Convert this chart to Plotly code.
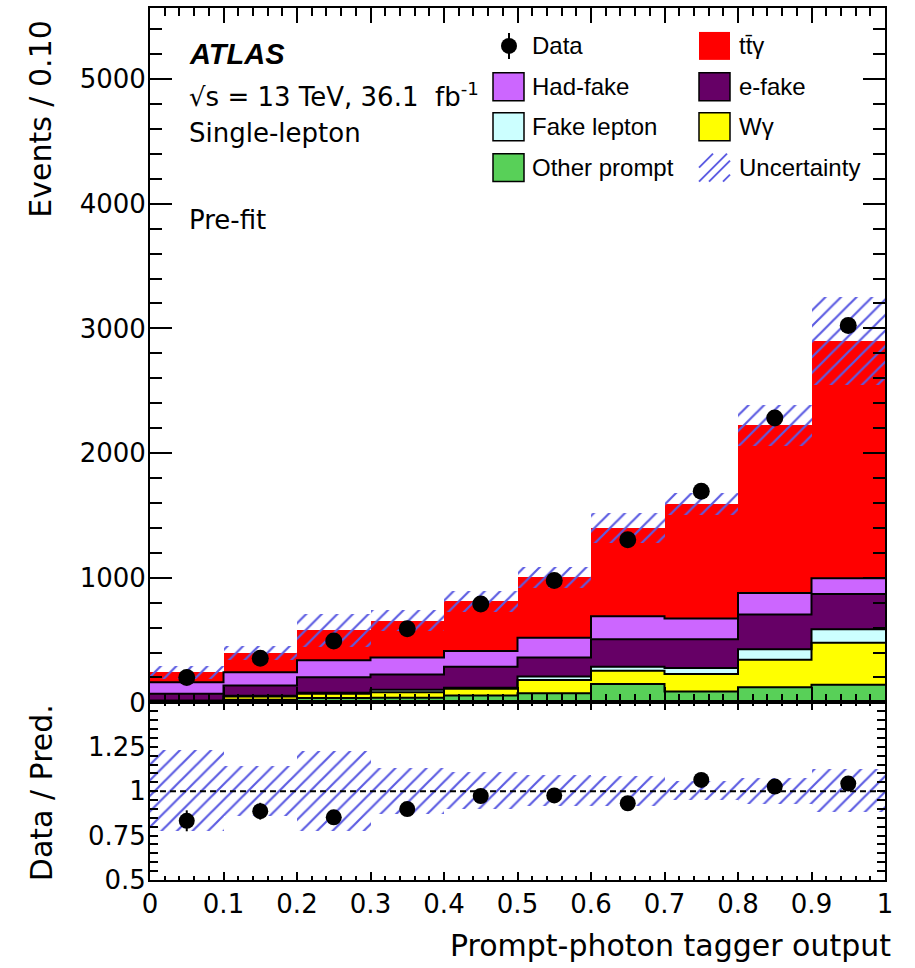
import numpy as np
import plotly.graph_objects as go

# Binning of the prompt-photon tagger output
bin_edges = [0.0, 0.1, 0.2, 0.3, 0.4, 0.5, 0.6, 0.7, 0.8, 0.9, 1.0]
bin_centers = [0.05, 0.15, 0.25, 0.35, 0.45, 0.55, 0.65, 0.75, 0.85, 0.95]

# Pre-fit predictions per bin (events / 0.10)
other_prompt = [5, 22, 35, 38, 55, 74, 148, 87, 122, 141]
w_gamma = [5, 26, 35, 44, 54, 106, 106, 141, 220, 338]
fake_lepton = [5, 6, 8, 19, 9, 27, 32, 48, 85, 107]
e_fake = [55, 81, 123, 122, 168, 153, 220, 230, 278, 283]
had_fake = [92, 106, 138, 137, 127, 159, 186, 167, 172, 127]
ttgamma = [78, 159, 239, 297, 398, 483, 707, 919, 1346, 1903]

# Total uncertainty on the prediction and observed data
uncertainty = [55, 56, 130, 85, 85, 87, 119, 85, 165, 349]
data = [200, 355, 493, 591, 789, 978, 1304, 1693, 2281, 3023]

# Ratio-panel tick labels
ratio_ticks = [0.5, 0.75, 1.0, 1.25]
ratio_ticktext = ["0.5", "0.75", "1", "1.25"]

components = [
    ("Other prompt", other_prompt, "#58d058"),
    ("Wγ", w_gamma, "#ffff00"),
    ("Fake lepton", fake_lepton, "#ccffff"),
    ("e-fake", e_fake, "#660066"),
    ("Had-fake", had_fake, "#cc66ff"),
    ("tt̄γ", ttgamma, "#ff0000"),
]

HATCH = "rgb(92,92,226)"
AXIS_FONT = "DejaVu Sans"
LEG_FONT = "Liberation Sans"

W, H = 915, 968
ML, MR, MT, MB = 150, 30, 6, 88
PLOT_W = W - ML - MR
PLOT_H = H - MT - MB
SPLIT = 178 / PLOT_H  # fraction of the plot height used by the ratio panel


def px_x(px):
    return (px - ML) / PLOT_W


def px_y(py):
    return (H - MB - py) / PLOT_H


fig = go.Figure()

# Stacked histogram
base = np.zeros(len(bin_centers))
cumulative = []
for name, vals, color in components:
    vals = np.array(vals, dtype=float)
    fig.add_trace(go.Bar(
        x=bin_centers, y=vals, base=base.copy(), width=0.1,
        marker=dict(color=color, line=dict(width=0)),
        name=name, showlegend=False, hoverinfo="skip",
        xaxis="x", yaxis="y",
    ))
    base = base + vals
    cumulative.append(base.copy())

total = base.copy()

# Black step outlines on top of each stacked layer (not on the signal)
for cum in cumulative[:-1]:
    fig.add_trace(go.Scatter(
        x=bin_edges, y=list(cum) + [cum[-1]], mode="lines",
        line=dict(color="black", width=2, shape="hv"),
        showlegend=False, hoverinfo="skip", xaxis="x", yaxis="y",
    ))

unc = np.array(uncertainty, dtype=float)
hatch_pattern = dict(shape="/", fgcolor=HATCH, bgcolor="rgba(0,0,0,0)",
                     size=11, solidity=0.2, fillmode="replace")

# Uncertainty band on the total prediction
fig.add_trace(go.Bar(
    x=bin_centers, y=2 * unc, base=total - unc, width=0.1,
    marker=dict(color="rgba(0,0,0,0)", line=dict(width=0), pattern=hatch_pattern),
    name="Uncertainty", showlegend=False, hoverinfo="skip",
    xaxis="x", yaxis="y",
))

# Data points
data_arr = np.array(data, dtype=float)
fig.add_trace(go.Scatter(
    x=bin_centers, y=data_arr, mode="markers",
    marker=dict(color="black", size=17),
    error_y=dict(type="data", array=np.sqrt(data_arr), color="black",
                 thickness=2, width=0),
    name="Data", showlegend=False, xaxis="x", yaxis="y",
))

# Ratio panel
ratio = data_arr / total
ratio_err = np.sqrt(data_arr) / total
rel_unc = unc / total
fig.add_trace(go.Scatter(
    x=bin_centers, y=ratio, mode="markers",
    marker=dict(color="black", size=16),
    error_y=dict(type="data", array=ratio_err, color="black",
                 thickness=2, width=0),
    showlegend=False, xaxis="x2", yaxis="y2",
))
fig.add_trace(go.Bar(
    x=bin_centers, y=2 * rel_unc, base=1 - rel_unc, width=0.1,
    marker=dict(color="rgba(0,0,0,0)", line=dict(width=0), pattern=hatch_pattern),
    showlegend=False, hoverinfo="skip", xaxis="x2", yaxis="y2",
))

fig.add_shape(type="line", xref="x2", yref="y2", x0=0, x1=1, y0=1, y1=1,
              line=dict(color="black", width=2, dash="6px,4px"))

tickfont = dict(family=AXIS_FONT, size=26, color="black")
common = dict(showline=True, linecolor="black", linewidth=2, mirror="ticks",
              ticks="inside", tickcolor="black", tickwidth=2,
              showgrid=False, zeroline=False)

fig.update_layout(
    width=W, height=H,
    margin=dict(l=ML, r=MR, t=MT, b=MB),
    paper_bgcolor="white", plot_bgcolor="white",
    barmode="overlay", bargap=0,
    showlegend=False,
    xaxis=dict(domain=[0, 1], anchor="y", range=[0, 1], dtick=0.1, tick0=0,
               ticklen=15, showticklabels=False,
               minor=dict(dtick=0.02, tick0=0, ticks="inside", ticklen=8,
                          tickwidth=1.5, tickcolor="black", showgrid=False),
               **common),
    yaxis=dict(domain=[SPLIT, 1], anchor="x", range=[0, 5570], dtick=1000,
               tick0=0, ticklen=22, tickfont=tickfont, ticklabelstandoff=-3,
               minor=dict(dtick=200, tick0=0, ticks="inside", ticklen=12,
                          tickwidth=1.5, tickcolor="black", showgrid=False),
               **common),
    xaxis2=dict(domain=[0, 1], anchor="y2", range=[0, 1], dtick=0.1, tick0=0,
                ticklen=8, tickfont=tickfont,
                minor=dict(dtick=0.02, tick0=0, ticks="inside", ticklen=4,
                           tickwidth=1.5, tickcolor="black", showgrid=False),
                **common),
    yaxis2=dict(domain=[0, SPLIT], anchor="x2", range=[0.5, 1.5],
                tickvals=ratio_ticks, ticktext=ratio_ticktext,
                ticklen=8, tickfont=tickfont, ticklabelstandoff=-3,
                minor=dict(dtick=0.05, tick0=0.5, ticks="inside", ticklen=8,
                           tickwidth=1.5, tickcolor="black", showgrid=False),
                **common),
    yaxis3=dict(overlaying="y2", anchor="x2", range=[0.5, 1.5],
                tickvals=[0.75, 1.25], ticklen=17, showticklabels=False,
                **common),
)

annotations = []
# Axis titles
annotations.append(dict(text="Events / 0.10", x=px_x(41), y=px_y(117),
                        xanchor="center", yanchor="middle",
                        textangle=-90, font=dict(family=AXIS_FONT, size=30)))
annotations.append(dict(text="Data / Pred.", x=px_x(41), y=px_y(793),
                        xanchor="center", yanchor="middle",
                        textangle=-90, font=dict(family=AXIS_FONT, size=30)))
annotations.append(dict(text="Prompt-photon tagger output", x=px_x(893),
                        y=px_y(946), xanchor="right", yanchor="middle",
                        font=dict(family=AXIS_FONT, size=30)))

# Labels in the upper-left corner
annotations.append(dict(text="<b><i>ATLAS</i></b>", x=px_x(187), y=px_y(52),
                        xanchor="left", yanchor="middle",
                        font=dict(family=LEG_FONT, size=29)))
annotations.append(dict(text="√s = 13 TeV, 36.1  fb<sup>-1</sup>",
                        x=px_x(187), y=px_y(93), xanchor="left",
                        yanchor="middle",
                        font=dict(family=AXIS_FONT, size=26)))
annotations.append(dict(text="Single-lepton", x=px_x(187), y=px_y(131),
                        xanchor="left", yanchor="middle",
                        font=dict(family=AXIS_FONT, size=26)))
annotations.append(dict(text="Pre-fit", x=px_x(187), y=px_y(218),
                        xanchor="left", yanchor="middle",
                        font=dict(family=AXIS_FONT, size=26)))

shapes = []
# Legend (two columns)
rows = [44, 85, 125, 166]
left_x, right_x = 493, 699
box_w, box_h = 31, 28
legend_left = [("Data", None), ("Had-fake", "#cc66ff"),
               ("Fake lepton", "#ccffff"), ("Other prompt", "#58d058")]
legend_right = [("tt̄γ", "#ff0000"), ("e-fake", "#660066"),
                ("Wγ", "#ffff00"), ("Uncertainty", None)]

for (label, color), yc in zip(legend_left, rows):
    if color is None:
        shapes.append(dict(type="line", xref="paper", yref="paper",
                           x0=px_x(509), x1=px_x(509),
                           y0=px_y(yc - 13), y1=px_y(yc + 13),
                           line=dict(color="black", width=2)))
        shapes.append(dict(type="circle", xref="paper", yref="paper",
                           x0=px_x(501), x1=px_x(517),
                           y0=px_y(yc + 8), y1=px_y(yc - 8),
                           fillcolor="black", line=dict(color="black", width=0)))
    else:
        shapes.append(dict(type="rect", xref="paper", yref="paper",
                           x0=px_x(left_x), x1=px_x(left_x + box_w),
                           y0=px_y(yc + box_h / 2), y1=px_y(yc - box_h / 2),
                           fillcolor=color, line=dict(color="black", width=1.5)))
    annotations.append(dict(text=label, x=px_x(530), y=px_y(yc),
                            xanchor="left", yanchor="middle",
                            font=dict(family=LEG_FONT, size=24)))

for (label, color), yc in zip(legend_right, rows):
    if color is None:
        y_top, y_bot = yc - box_h / 2, yc + box_h / 2
        for (xa, ya, xb, yb) in [(right_x, yc, right_x + 14, y_top),
                                 (right_x, y_bot, right_x + 28, y_top),
                                 (right_x + 10, y_bot, right_x + 31, y_top + 7),
                                 (right_x + 24, y_bot, right_x + 31, y_bot - 7)]:
            shapes.append(dict(type="line", xref="paper", yref="paper",
                               x0=px_x(xa), y0=px_y(ya), x1=px_x(xb), y1=px_y(yb),
                               line=dict(color=HATCH, width=2)))
    else:
        border = dict(width=0) if color == "#ff0000" else dict(color="black", width=1.5)
        shapes.append(dict(type="rect", xref="paper", yref="paper",
                           x0=px_x(right_x), x1=px_x(right_x + box_w),
                           y0=px_y(yc + box_h / 2), y1=px_y(yc - box_h / 2),
                           fillcolor=color, line=border))
    annotations.append(dict(text=label, x=px_x(737), y=px_y(yc),
                            xanchor="left", yanchor="middle",
                            font=dict(family=LEG_FONT, size=24)))

for a in annotations:
    a.setdefault("xref", "paper")
    a.setdefault("yref", "paper")
    a.setdefault("showarrow", False)
    a["font"].setdefault("color", "black")

fig.update_layout(annotations=annotations)
for s in shapes:
    fig.add_shape(**s)

fig.write_html("out.html")
